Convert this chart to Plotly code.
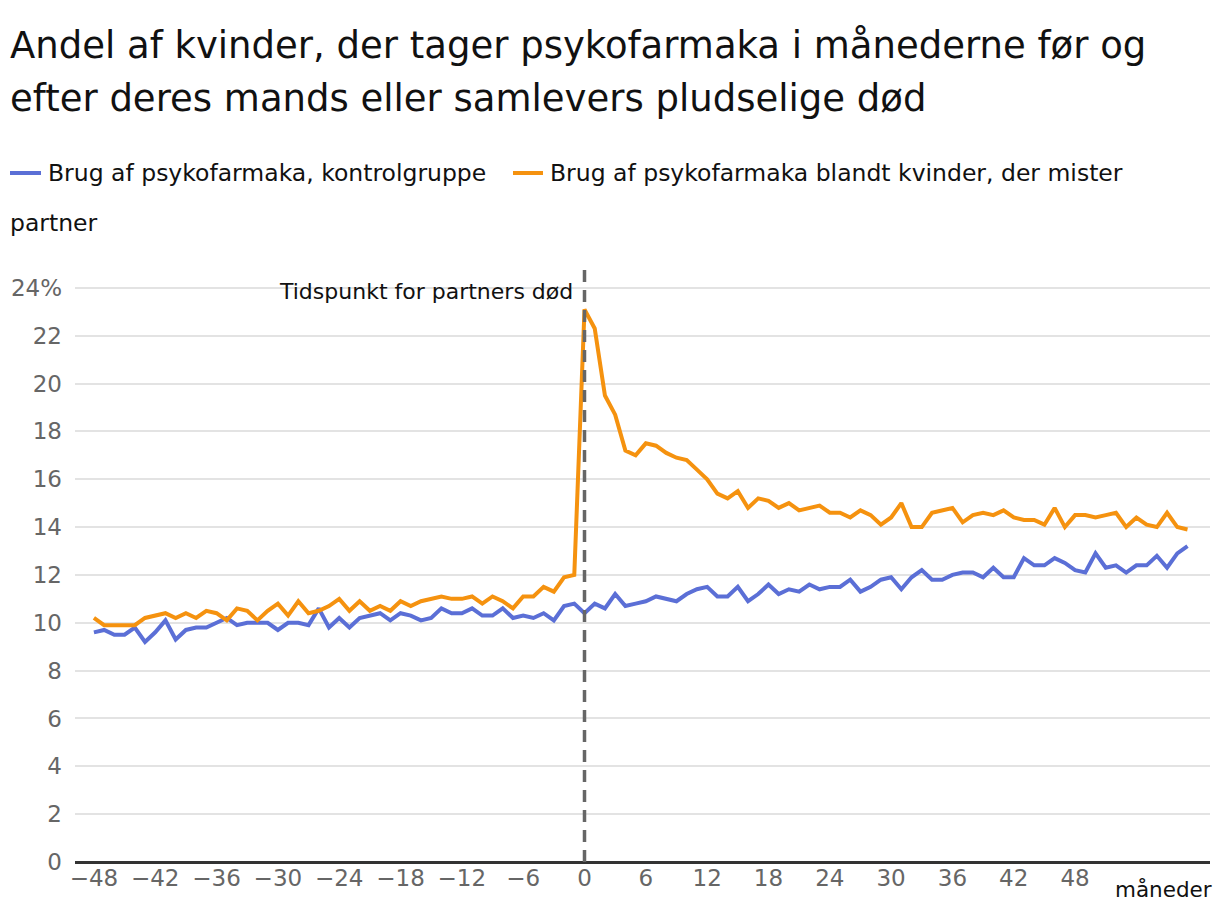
import plotly.graph_objects as go

months = list(range(-48, 60))

kontrol = [
    9.6, 9.7, 9.5, 9.5, 9.8, 9.2, 9.6, 10.1, 9.3, 9.7, 9.8, 9.8,
    10.0, 10.2, 9.9, 10.0, 10.0, 10.0, 9.7, 10.0, 10.0, 9.9, 10.6, 9.8,
    10.2, 9.8, 10.2, 10.3, 10.4, 10.1, 10.4, 10.3, 10.1, 10.2, 10.6, 10.4,
    10.4, 10.6, 10.3, 10.3, 10.6, 10.2, 10.3, 10.2, 10.4, 10.1, 10.7, 10.8,
    10.4, 10.8, 10.6, 11.2, 10.7, 10.8, 10.9, 11.1, 11.0, 10.9, 11.2, 11.4,
    11.5, 11.1, 11.1, 11.5, 10.9, 11.2, 11.6, 11.2, 11.4, 11.3, 11.6, 11.4,
    11.5, 11.5, 11.8, 11.3, 11.5, 11.8, 11.9, 11.4, 11.9, 12.2, 11.8, 11.8,
    12.0, 12.1, 12.1, 11.9, 12.3, 11.9, 11.9, 12.7, 12.4, 12.4, 12.7, 12.5,
    12.2, 12.1, 12.9, 12.3, 12.4, 12.1, 12.4, 12.4, 12.8, 12.3, 12.9, 13.2,
]

mister = [
    10.2, 9.9, 9.9, 9.9, 9.9, 10.2, 10.3, 10.4, 10.2, 10.4, 10.2, 10.5,
    10.4, 10.1, 10.6, 10.5, 10.1, 10.5, 10.8, 10.3, 10.9, 10.4, 10.5, 10.7,
    11.0, 10.5, 10.9, 10.5, 10.7, 10.5, 10.9, 10.7, 10.9, 11.0, 11.1, 11.0,
    11.0, 11.1, 10.8, 11.1, 10.9, 10.6, 11.1, 11.1, 11.5, 11.3, 11.9, 12.0,
    23.1, 22.3, 19.5, 18.7, 17.2, 17.0, 17.5, 17.4, 17.1, 16.9, 16.8, 16.4,
    16.0, 15.4, 15.2, 15.5, 14.8, 15.2, 15.1, 14.8, 15.0, 14.7, 14.8, 14.9,
    14.6, 14.6, 14.4, 14.7, 14.5, 14.1, 14.4, 15.0, 14.0, 14.0, 14.6, 14.7,
    14.8, 14.2, 14.5, 14.6, 14.5, 14.7, 14.4, 14.3, 14.3, 14.1, 14.8, 14.0,
    14.5, 14.5, 14.4, 14.5, 14.6, 14.0, 14.4, 14.1, 14.0, 14.6, 14.0, 13.9,
]

x_ticks = list(range(-48, 49, 6))
x_ticktext = [("\u2212" + str(abs(v))) if v < 0 else str(v) for v in x_ticks]
y_ticks = list(range(0, 25, 2))
y_ticktext = [str(v) for v in y_ticks[:-1]] + ["24%"]

title_lines = [
    "Andel af kvinder, der tager psykofarmaka i månederne før og",
    "efter deres mands eller samlevers pludselige død",
]
legend_names = [
    "Brug af psykofarmaka, kontrolgruppe",
    "Brug af psykofarmaka blandt kvinder, der mister",
]
legend_wrap = "partner"
event_label = "Tidspunkt for partners død"
x_unit = "måneder"

BLUE = "#5b6fd6"
ORANGE = "#f5920f"
FONT = "DejaVu Sans"
TEXT = "#111111"
TICK = "#666666"

W, H = 1220, 918
ML, MR, MT, MB = 75, 10, 262, 56
PW, PH = W - ML - MR, H - MT - MB


def px(x):
    return (x - ML) / PW


def py(y):
    return (H - MB - y) / PH


fig = go.Figure()
fig.add_trace(go.Scatter(x=months, y=kontrol, mode="lines", name=legend_names[0],
                         line=dict(color=BLUE, width=4)))
fig.add_trace(go.Scatter(x=months, y=mister, mode="lines", name=legend_names[1],
                         line=dict(color=ORANGE, width=4)))

fig.add_shape(type="line", xref="x", yref="y domain", x0=0, x1=0, y0=0, y1=1,
              line=dict(color="#666666", width=3.5, dash="12px,8px"))

annotations = []
for i, t in enumerate(title_lines):
    annotations.append(dict(text=t, xref="paper", yref="paper", x=px(8), y=py(45 + i * 54),
                            xanchor="left", yanchor="middle", showarrow=False,
                            font=dict(family=FONT, size=37, color=TEXT)))
annotations.append(dict(text=legend_names[0], xref="paper", yref="paper", x=px(46), y=py(173),
                        xanchor="left", yanchor="middle", showarrow=False,
                        font=dict(family=FONT, size=23.5, color=TEXT)))
annotations.append(dict(text=legend_names[1], xref="paper", yref="paper", x=px(548), y=py(173),
                        xanchor="left", yanchor="middle", showarrow=False,
                        font=dict(family=FONT, size=23.5, color=TEXT)))
annotations.append(dict(text=legend_wrap, xref="paper", yref="paper", x=px(8), y=py(223),
                        xanchor="left", yanchor="middle", showarrow=False,
                        font=dict(family=FONT, size=23.5, color=TEXT)))
annotations.append(dict(text=event_label, xref="x", yref="paper", x=-0.9, y=py(291),
                        xanchor="right", yanchor="middle", showarrow=False,
                        font=dict(family=FONT, size=22, color=TEXT)))
annotations.append(dict(text=x_unit, xref="paper", yref="paper", x=px(1113), y=py(889),
                        xanchor="left", yanchor="middle", showarrow=False,
                        font=dict(family=FONT, size=21.5, color=TEXT)))
fig.update_layout(annotations=annotations)

for x0, x1, c in [(10, 41, BLUE), (513, 543, ORANGE)]:
    fig.add_shape(type="line", xref="paper", yref="paper", x0=px(x0), x1=px(x1),
                  y0=py(173), y1=py(173), line=dict(color=c, width=4))

fig.update_layout(
    width=W, height=H,
    margin=dict(l=ML, r=MR, t=MT, b=MB),
    paper_bgcolor="white", plot_bgcolor="white",
    showlegend=False,
    font=dict(family=FONT),
    xaxis=dict(range=[-49.85, 61.2], tickvals=x_ticks, ticktext=x_ticktext,
               showgrid=False, zeroline=False, showline=False, ticks="",
               tickfont=dict(family=FONT, size=23, color=TICK)),
    yaxis=dict(range=[0, 25.08], tickvals=y_ticks, ticktext=y_ticktext,
               showgrid=True, gridcolor="#e3e3e3", gridwidth=2,
               zeroline=True, zerolinecolor="#333333", zerolinewidth=2.5,
               showline=False, ticks="", ticklabelstandoff=12,
               tickfont=dict(family=FONT, size=23, color=TICK)),
)

fig.write_html("out.html", config={"displayModeBar": False},
               post_script="document.body.style.margin='0';")
